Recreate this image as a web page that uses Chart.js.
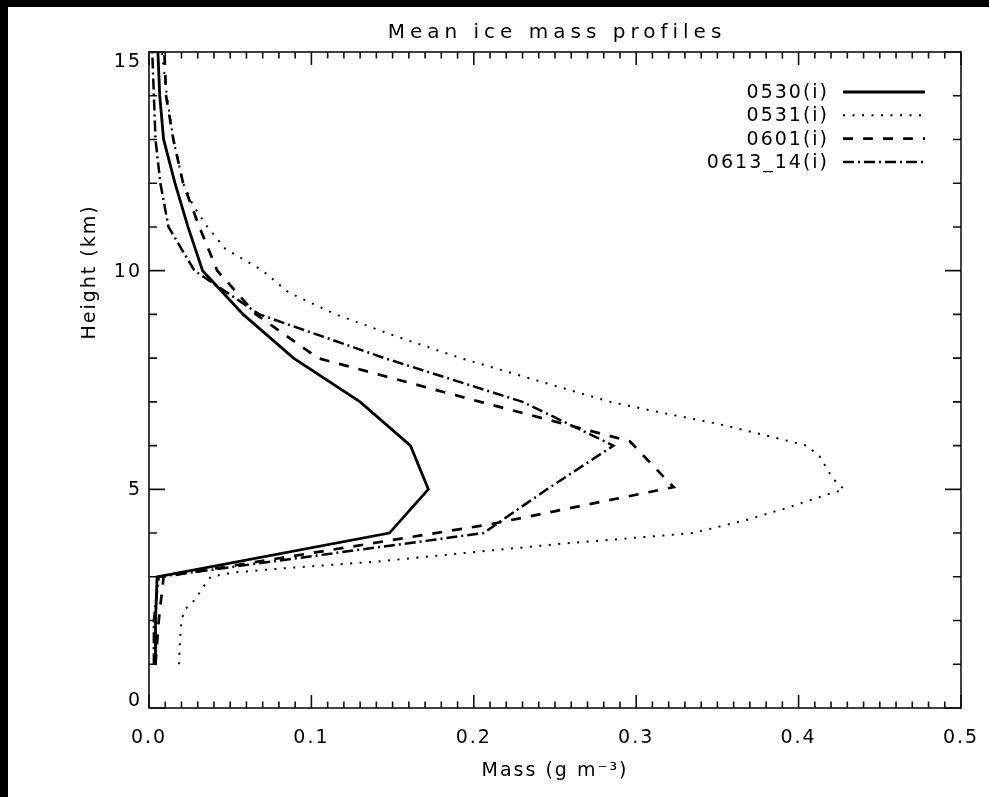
<!DOCTYPE html>
<html>
<head>
<meta charset="utf-8">
<script src="https://cdn.jsdelivr.net/npm/chart.js@4.4.1/dist/chart.umd.min.js"></script>
<style>
  html, body { margin: 0; padding: 0; background: #000; }
  #wrap { position: absolute; left: 8px; top: 7px; width: 981px; height: 790px; background: #fff; }
</style>
</head>
<body>
<div id="wrap"><canvas id="chart"></canvas></div>
<script>
// heights in km, masses in g m^-3
const seriesNames = ['0530(i)', '0531(i)', '0601(i)', '0613_14(i)'];

const h0530 = [1, 2, 3, 4, 5, 6, 7, 8, 9, 10, 11, 12, 13, 14, 15];
const m0530 = [0.004, 0.004, 0.005, 0.148, 0.172, 0.161, 0.130, 0.089, 0.058, 0.033, 0.024, 0.016, 0.009, 0.0066, 0.0055];

const h0531 = [1, 1.5, 2, 2.25, 2.5, 2.75, 3, 3.1, 3.2, 3.35, 3.5, 3.75, 4, 4.3, 4.6, 4.85, 5, 5.25, 5.5, 5.75, 6, 6.25, 6.5, 6.75, 7, 7.5, 8, 8.5, 9, 9.5, 10, 10.5, 11, 11.5, 12, 13, 14, 15];
const m0531 = [0.0185, 0.019, 0.020, 0.022, 0.029, 0.033, 0.038, 0.052, 0.085, 0.141, 0.182, 0.252, 0.335, 0.368, 0.395, 0.415, 0.428, 0.421, 0.417, 0.413, 0.405, 0.378, 0.350, 0.316, 0.284, 0.238, 0.192, 0.152, 0.115, 0.086, 0.070, 0.047, 0.036, 0.027, 0.021, 0.015, 0.011, 0.008];

const h0601 = [1, 2, 3, 4.2, 5.05, 6.1, 7, 8, 9, 10, 11, 12, 13, 14, 15];
const m0601 = [0.004, 0.006, 0.009, 0.210, 0.323, 0.296, 0.204, 0.104, 0.066, 0.042, 0.031, 0.021, 0.015, 0.0105, 0.0095];

const h0613 = [1, 2, 3, 4, 5, 6, 7, 8, 9, 10, 11, 12, 13, 14, 15];
const m0613 = [0.003, 0.003, 0.006, 0.206, 0.245, 0.286, 0.230, 0.145, 0.068, 0.028, 0.012, 0.007, 0.004, 0.003, 0.002];

const xTicks = [0, 0.1, 0.2, 0.3, 0.4, 0.5];
const yTicks = [0, 5, 10, 15];

const toPoints = (hs, ms) => ms.map((m, i) => ({ x: m, y: hs[i] }));

Chart.defaults.font.family = "'DejaVu Sans', sans-serif";
Chart.defaults.color = '#000';

const spacing = '2px';
const letterSpacing = {
  id: 'letterSpacing',
  beforeLayout(chart) { chart.ctx.letterSpacing = spacing; },
  beforeDraw(chart) { chart.ctx.letterSpacing = spacing; }
};

// IDL style box with inward major/minor ticks on all four sides
const frameTicks = {
  id: 'frameTicks',
  afterDatasetsDraw(chart) {
    const { ctx, chartArea: a, scales: { x, y } } = chart;
    ctx.save();
    ctx.strokeStyle = '#111';
    ctx.lineWidth = 1.6;
    ctx.strokeRect(a.left, a.top, a.right - a.left, a.bottom - a.top);
    ctx.beginPath();
    for (let i = 0; i <= 50; i++) {
      const px = x.getPixelForValue(i * 0.01);
      const len = i % 10 === 0 ? 13 : 6.5;
      ctx.moveTo(px, a.bottom); ctx.lineTo(px, a.bottom - len);
      ctx.moveTo(px, a.top); ctx.lineTo(px, a.top + len);
    }
    for (let j = 0; j <= 15; j++) {
      const py = y.getPixelForValue(j);
      const len = j % 5 === 0 ? 16 : 8;
      ctx.moveTo(a.left, py); ctx.lineTo(a.left + len, py);
      ctx.moveTo(a.right, py); ctx.lineTo(a.right - len, py);
    }
    ctx.stroke();

    // y tick labels, end ones nudged inward like the original plot
    ctx.font = "19px 'DejaVu Sans', sans-serif";
    ctx.letterSpacing = spacing;
    ctx.fillStyle = '#000';
    ctx.textAlign = 'right';
    ctx.textBaseline = 'middle';
    yTicks.forEach((v, k) => {
      let py = y.getPixelForValue(v);
      if (k === 0) py -= 8;
      if (k === yTicks.length - 1) py += 9;
      ctx.fillText(String(v), a.left - 7, py + 1);
    });

    // y axis title, sitting above the middle of the axis as in the original
    ctx.save();
    ctx.translate(a.left - 59, a.top + 220);
    ctx.rotate(-Math.PI / 2);
    ctx.textAlign = 'center';
    ctx.fillText('Height (km)', 0, 0);
    ctx.restore();

    // title centred over the plot box
    ctx.font = "20px 'DejaVu Sans', sans-serif";
    ctx.letterSpacing = '5px';
    ctx.textAlign = 'center';
    ctx.fillText('Mean ice mass profiles', (a.left + a.right) / 2 + 2, a.top - 19);
    ctx.restore();
  }
};

// legend inside the plot, text right aligned with the line sample to its right
const boxLegend = {
  id: 'boxLegend',
  afterDraw(chart) {
    const { ctx, chartArea: a } = chart;
    ctx.save();
    ctx.font = "19px 'DejaVu Sans', sans-serif";
    ctx.letterSpacing = spacing;
    ctx.fillStyle = '#000';
    ctx.textAlign = 'right';
    ctx.textBaseline = 'middle';
    chart.data.datasets.forEach((ds, i) => {
      const yy = a.top + 40 + i * 23.3;
      ctx.fillText(ds.label, a.right - 132, yy + 1);
      ctx.beginPath();
      ctx.setLineDash(ds.borderDash || []);
      ctx.lineWidth = ds.borderWidth;
      ctx.strokeStyle = ds.borderColor;
      ctx.moveTo(a.right - 118, yy);
      ctx.lineTo(a.right - 36, yy);
      ctx.stroke();
    });
    ctx.restore();
  }
};

const line = (label, pts, dash, width) => ({
  label: label,
  data: pts,
  showLine: true,
  borderColor: '#000',
  backgroundColor: '#000',
  borderWidth: width,
  borderDash: dash,
  borderCapStyle: 'butt',
  pointRadius: 0,
  tension: 0,
  fill: false
});

new Chart(document.getElementById('chart'), {
  type: 'scatter',
  data: {
    datasets: [
      line(seriesNames[0], toPoints(h0530, m0530), [], 2.8),
      line(seriesNames[1], toPoints(h0531, m0531), [2, 7.5], 2),
      line(seriesNames[2], toPoints(h0601, m0601), [10, 10], 2.7),
      line(seriesNames[3], toPoints(h0613, m0613), [11, 4, 2, 4], 2.5)
    ]
  },
  options: {
    responsive: true,
    maintainAspectRatio: false,
    animation: false,
    layout: { padding: { left: 0, right: 28, top: 45, bottom: 0 } },
    plugins: {
      legend: { display: false },
      tooltip: { enabled: false },
      title: { display: false }
    },
    scales: {
      x: {
        type: 'linear',
        min: 0,
        max: 0.5,
        afterBuildTicks: s => { s.ticks = xTicks.map(v => ({ value: v })); },
        afterFit: s => { s.height = 89; s.paddingLeft = 0; s.paddingRight = 0; },
        grid: { display: false, drawTicks: false },
        border: { display: false },
        ticks: {
          padding: 19,
          font: { size: 19 },
          maxRotation: 0,
          callback: v => v.toFixed(1)
        },
        title: {
          display: true,
          text: 'Mass (g m⁻³)',
          font: { size: 19 },
          padding: { top: 0, bottom: 15 }
        }
      },
      y: {
        type: 'linear',
        min: 0,
        max: 15,
        afterBuildTicks: s => { s.ticks = yTicks.map(v => ({ value: v })); },
        afterFit: s => { s.width = 141; s.paddingTop = 0; s.paddingBottom = 0; },
        grid: { display: false, drawTicks: false },
        border: { display: false },
        ticks: { display: false },
        title: { display: false }
      }
    }
  },
  plugins: [letterSpacing, frameTicks, boxLegend]
});
</script>
</body>
</html>
